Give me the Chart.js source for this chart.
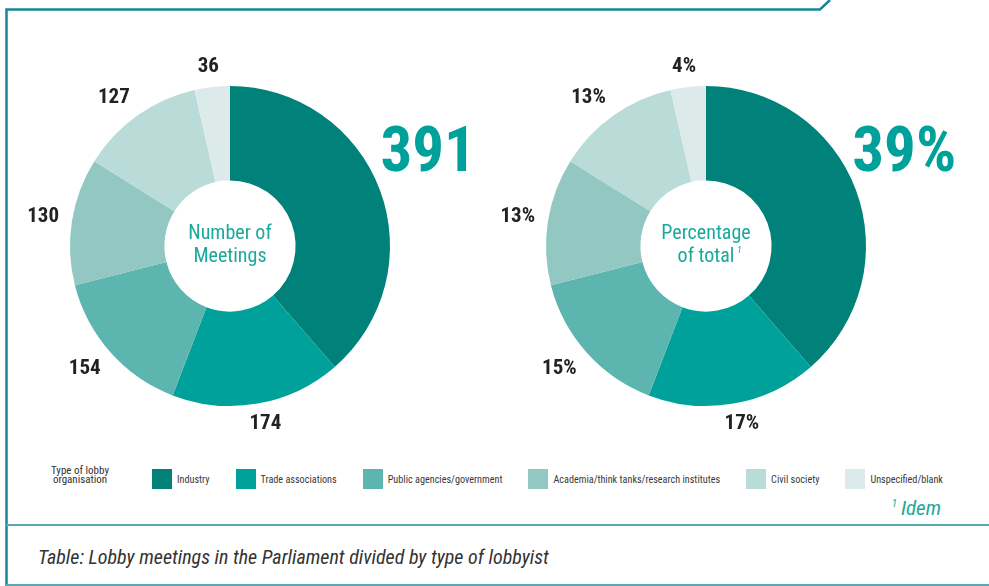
<!DOCTYPE html>
<html lang="en">
<head>
<meta charset="UTF-8">
<title>Lobby meetings in the Parliament by type of lobbyist</title>
<script src="https://cdn.jsdelivr.net/npm/chart.js"></script>
<style>
  body { margin: 0; width: 989px; height: 586px; position: relative; overflow: hidden; background: #fff;
         font-family: 'Roboto Condensed', 'Liberation Sans Narrow', 'Arial Narrow', Roboto, sans-serif; }
  canvas { position: absolute; top: 30px; }
  #frame { position: absolute; left: 0; top: 0; }
  #legendTitle { position: absolute; left: 38px; top: 466px; width: 84px; text-align: center;
                 font-size: 11px; line-height: 9px; color: #333; }
  #legend { position: absolute; left: 152px; top: 469px; display: flex; gap: 26px; }
  .item { display: flex; align-items: center; font-size: 10.2px; color: #3a3a3a; }
  .sw { width: 20px; height: 20px; margin-right: 5px; }
  #note { position: absolute; right: 48px; top: 496px; font-style: italic; font-size: 21px; color: #1aa99b; }
  #note sup { font-size: 11px; margin-right: 4px; }
  #caption { position: absolute; left: 38px; top: 545px; font-style: italic; font-size: 20px; color: #333; }
</style>
</head>
<body>
<svg id="frame" width="989" height="586">
  <polyline points="6.5,586 6.5,9.5 820,9.5 830,0" fill="none" stroke="#16879a" stroke-width="2.5"/>
  <line x1="6" y1="525" x2="989" y2="525" stroke="#58a9b1" stroke-width="2"/>
  <line x1="6" y1="585" x2="989" y2="585" stroke="#58a9b1" stroke-width="2"/>
</svg>
<canvas id="meetingsChart" width="480" height="430" style="left:0"></canvas>
<canvas id="shareChart" width="480" height="430" style="left:476px"></canvas>
<div id="legendTitle">Type of lobby<br>organisation</div>
<div id="legend"></div>
<div id="note"><sup>1</sup>Idem</div>
<div id="caption">Table: Lobby meetings in the Parliament divided by type of lobbyist</div>

<script>
const categories = ['Industry', 'Trade associations', 'Public agencies/government',
                    'Academia/think tanks/research institutes', 'Civil society', 'Unspecified/blank'];
const meetings = [391, 174, 154, 130, 127, 36];
const percentages = [39, 17, 15, 13, 13, 4];
const colors = ['#00827a', '#00a19a', '#5db5af', '#93c7c2', '#b9dcd9', '#dcebea'];

const FONT = "'Roboto Condensed', 'Liberation Sans Narrow', 'Arial Narrow', Roboto, sans-serif";

const clamp = v => Math.max(-1, Math.min(1, v));

// value labels around the ring + text in the hole
const ringText = {
  id: 'ringText',
  afterDatasetsDraw(chart, args, opts) {
    const ctx = chart.ctx;
    const meta = chart.getDatasetMeta(0);
    ctx.save();
    ctx.textAlign = 'center';
    ctx.textBaseline = 'middle';
    meta.data.forEach((arc, i) => {
      const text = opts.labels[i];
      let x, y;
      if (i === 0) {
        ctx.font = 'bold 63px ' + FONT;
        ctx.fillStyle = '#00a19a';
        const a = arc.startAngle + (arc.endAngle - arc.startAngle) * 0.47;
        const r = arc.outerRadius + 58;
        x = arc.x + r * Math.cos(a);
        y = arc.y + r * Math.sin(a);
      } else {
        ctx.font = 'bold 21px ' + FONT;
        ctx.fillStyle = '#222';
        const a = (arc.startAngle + arc.endAngle) / 2;
        const r = arc.outerRadius + 13;
        const hw = ctx.measureText(text).width / 2, hh = 7.5;
        // keep the nearest corner of the text box on the anchor circle
        x = arc.x + r * Math.cos(a) + hw * clamp(Math.cos(a) * 2);
        y = arc.y + r * Math.sin(a) + hh * clamp(Math.sin(a) * 2);
      }
      ctx.fillText(text, x, y);
    });
    // centre caption
    const cx = meta.data[0].x, cy = meta.data[0].y;
    ctx.font = '20px ' + FONT;
    ctx.fillStyle = '#1aa99b';
    ctx.fillText(opts.lines[0], cx, cy - 12);
    ctx.fillText(opts.lines[1], cx, cy + 11);
    if (opts.sup) {
      const w = ctx.measureText(opts.lines[1]).width;
      ctx.font = 'italic 9px ' + FONT;
      ctx.fillText(opts.sup, cx + w / 2 + 5, cy + 5);
    }
    ctx.restore();
  }
};

function ring(id, labels, lines, sup) {
  new Chart(document.getElementById(id), {
    type: 'doughnut',
    data: {
      labels: categories,
      datasets: [{ data: meetings, backgroundColor: colors, borderWidth: 0 }]
    },
    options: {
      responsive: false,
      animation: false,
      cutout: '41%',
      layout: { padding: { left: 70, right: 90, top: 56, bottom: 54 } },
      plugins: {
        legend: { display: false },
        tooltip: { enabled: false },
        ringText: { labels: labels, lines: lines, sup: sup }
      }
    },
    plugins: [ringText]
  });
}

ring('meetingsChart', meetings.map(String), ['Number of', 'Meetings'], '');
ring('shareChart', percentages.map(p => p + '%'), ['Percentage', 'of total'], '1');

// legend
const legend = document.getElementById('legend');
categories.forEach((c, i) => {
  const el = document.createElement('div');
  el.className = 'item';
  el.innerHTML = '<span class="sw" style="background:' + colors[i] + '"></span>' + c;
  legend.appendChild(el);
});
</script>
</body>
</html>
